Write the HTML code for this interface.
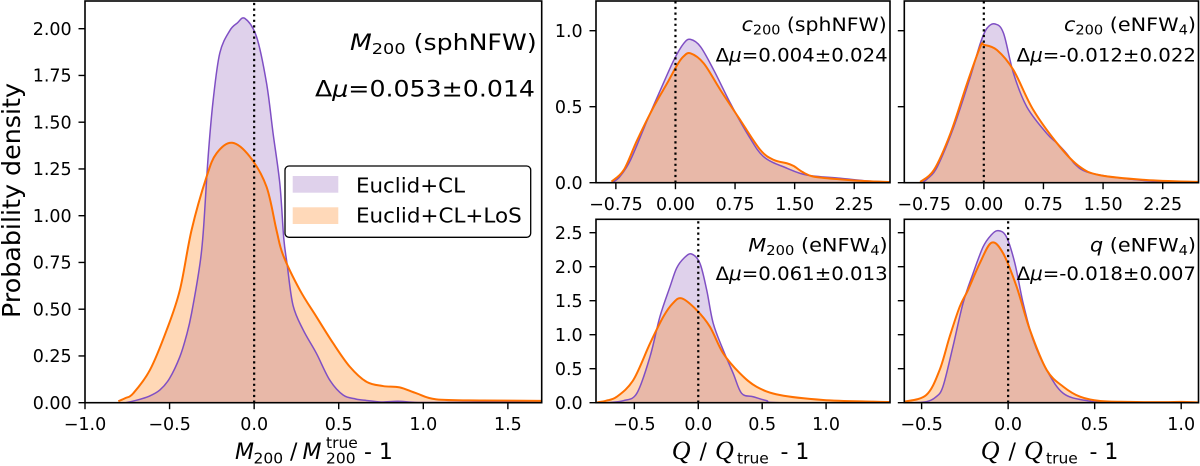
<!DOCTYPE html>
<html><head><meta charset="utf-8">
<style>
html,body{margin:0;padding:0;background:#fff;}
svg{display:block;font-family:"DejaVu Sans","Liberation Sans",sans-serif;}
.t{font-size:17.5px;fill:#000;}
.e{text-anchor:end;}
.m{text-anchor:middle;}
</style></head>
<body>
<svg id="s" width="1200" height="466" viewBox="0 0 1200 466" xmlns="http://www.w3.org/2000/svg">
<rect width="1200" height="466" fill="#fff"/>
<g id="plots"></g>

<g class="t e">
<text x="71.7" y="408.9">0.00</text>
<text x="71.7" y="362.15">0.25</text>
<text x="71.7" y="315.4">0.50</text>
<text x="71.7" y="268.65">0.75</text>
<text x="71.7" y="221.9">1.00</text>
<text x="71.7" y="175.15">1.25</text>
<text x="71.7" y="128.4">1.50</text>
<text x="71.7" y="81.65">1.75</text>
<text x="71.7" y="34.9">2.00</text>
</g>
<g class="t m">
<text x="85" y="430">−1.0</text>
<text x="169.6" y="430">−0.5</text>
<text x="254.2" y="430">0.0</text>
<text x="338.7" y="430">0.5</text>
<text x="423.3" y="430">1.0</text>
<text x="507.9" y="430">1.5</text>
</g>
<g class="t e">
<text x="582.7" y="36.9">1.0</text>
<text x="582.7" y="112.9">0.5</text>
<text x="582.7" y="188.9">0.0</text>
</g>
<g class="t m">
<text x="615.9" y="210">−0.75</text>
<text x="675.5" y="210">0.00</text>
<text x="735.1" y="210">0.75</text>
<text x="794.7" y="210">1.50</text>
<text x="854.2" y="210">2.25</text>
<text x="924.2" y="210">−0.75</text>
<text x="983.8" y="210">0.00</text>
<text x="1043.4" y="210">0.75</text>
<text x="1103.1" y="210">1.50</text>
<text x="1162.7" y="210">2.25</text>
</g>
<g class="t e">
<text x="582.7" y="408.9">0.0</text>
<text x="582.7" y="374.9">0.5</text>
<text x="582.7" y="340.9">1.0</text>
<text x="582.7" y="306.9">1.5</text>
<text x="582.7" y="272.9">2.0</text>
<text x="582.7" y="238.9">2.5</text>
</g>
<g class="t m">
<text x="634.4" y="430">−0.5</text>
<text x="698.3" y="430">0.0</text>
<text x="762.2" y="430">0.5</text>
<text x="826.1" y="430">1.0</text>
<text x="921.6" y="430">−0.5</text>
<text x="1008.1" y="430">0.0</text>
<text x="1094.7" y="430">0.5</text>
<text x="1181.2" y="430">1.0</text>
</g>

<text transform="translate(20,200.5) rotate(-90)" text-anchor="middle" font-size="25" textLength="235" lengthAdjust="spacingAndGlyphs">Probability density</text>

<g font-size="22">
<text x="235" y="459" font-style="italic">M</text>
<text x="253.5" y="463.5" font-size="15.5">200</text>
<text x="290" y="459">/</text>
<text x="302.5" y="459" font-style="italic">M</text>
<text x="326" y="448" font-size="15.5">true</text>
<text x="326" y="463.5" font-size="15.5">200</text>
<text x="364" y="459">- 1</text>
</g>
<g font-size="22">
<text x="671.7" y="459" font-size="26" font-style="italic" font-family="Liberation Serif, serif">Q</text>
<text x="699.5" y="459">/</text>
<text x="715" y="459" font-size="26" font-style="italic" font-family="Liberation Serif, serif">Q</text>
<text x="737" y="463.5" font-size="15.5">true</text>
<text x="780.5" y="459">- 1</text>
</g>
<g font-size="22">
<text x="980.7" y="459" font-size="26" font-style="italic" font-family="Liberation Serif, serif">Q</text>
<text x="1008.5" y="459">/</text>
<text x="1024" y="459" font-size="26" font-style="italic" font-family="Liberation Serif, serif">Q</text>
<text x="1046" y="463.5" font-size="15.5">true</text>
<text x="1089.5" y="459">- 1</text>
</g>

<text x="350" y="50" font-size="22" textLength="186.7" lengthAdjust="spacingAndGlyphs"><tspan font-style="italic">M</tspan><tspan font-size="15.5" dy="4">200</tspan><tspan dy="-4"> (sphNFW)</tspan></text>
<text x="315" y="96.7" font-size="22" textLength="220" lengthAdjust="spacingAndGlyphs">Δ<tspan font-style="italic">μ</tspan>=0.053±0.014</text>

<text x="741.7" y="31" font-size="18.5" textLength="145" lengthAdjust="spacingAndGlyphs"><tspan font-style="italic">c</tspan><tspan font-size="13" dy="3.5">200</tspan><tspan dy="-3.5"> (sphNFW)</tspan></text>
<text x="715.7" y="61.7" font-size="18.5" textLength="172" lengthAdjust="spacingAndGlyphs">Δ<tspan font-style="italic">μ</tspan>=0.004±0.024</text>

<text x="1064" y="31" font-size="18.5" textLength="132" lengthAdjust="spacingAndGlyphs"><tspan font-style="italic">c</tspan><tspan font-size="13" dy="3.5">200</tspan><tspan dy="-3.5"> (eNFW</tspan><tspan font-size="13" dy="3.5">4</tspan><tspan dy="-3.5">)</tspan></text>
<text x="1016.7" y="61.7" font-size="18.5" textLength="179.3" lengthAdjust="spacingAndGlyphs">Δ<tspan font-style="italic">μ</tspan>=-0.012±0.022</text>

<text x="748.3" y="251.7" font-size="18.5" textLength="139.4" lengthAdjust="spacingAndGlyphs"><tspan font-style="italic">M</tspan><tspan font-size="13" dy="3.5">200</tspan><tspan dy="-3.5"> (eNFW</tspan><tspan font-size="13" dy="3.5">4</tspan><tspan dy="-3.5">)</tspan></text>
<text x="715.7" y="280" font-size="18.5" textLength="172" lengthAdjust="spacingAndGlyphs">Δ<tspan font-style="italic">μ</tspan>=0.061±0.013</text>

<text x="1090" y="251.7" font-size="18.5" textLength="106" lengthAdjust="spacingAndGlyphs"><tspan font-style="italic">q</tspan> (eNFW<tspan font-size="13" dy="3.5">4</tspan><tspan dy="-3.5">)</tspan></text>
<text x="1016.7" y="280" font-size="18.5" textLength="179.3" lengthAdjust="spacingAndGlyphs">Δ<tspan font-style="italic">μ</tspan>=-0.018±0.007</text>

<rect x="285" y="166" width="245.7" height="71.3" rx="4" ry="4" fill="#fff" stroke="#000" stroke-width="1.3"/>
<rect x="292.7" y="176" width="45.6" height="16.7" fill="#dfd1eb"/>
<rect x="292.7" y="207.3" width="45.6" height="16.7" fill="#ffd9b9"/>
<text x="356" y="192.3" font-size="20.5" textLength="109" lengthAdjust="spacingAndGlyphs">Euclid+CL</text>
<text x="356" y="222.7" font-size="20.5" textLength="165.7" lengthAdjust="spacingAndGlyphs">Euclid+CL+LoS</text>
</svg>
<script>
const NS="http://www.w3.org/2000/svg";
const root=document.getElementById('plots');
function el(tag,attrs,parent){const e=document.createElementNS(NS,tag);for(const k in attrs)e.setAttribute(k,attrs[k]);(parent||root).appendChild(e);return e;}
function pathFrom(pts){
  let d="M"+pts[0][0].toFixed(2)+","+pts[0][1].toFixed(2);
  for(let i=0;i<pts.length-1;i++){
    const p0=pts[Math.max(i-1,0)],p1=pts[i],p2=pts[i+1],p3=pts[Math.min(i+2,pts.length-1)];
    const c1=[p1[0]+(p2[0]-p0[0])/6,p1[1]+(p2[1]-p0[1])/6];
    const c2=[p2[0]-(p3[0]-p1[0])/6,p2[1]-(p3[1]-p1[1])/6];
    d+=" C"+c1[0].toFixed(2)+","+c1[1].toFixed(2)+" "+c2[0].toFixed(2)+","+c2[1].toFixed(2)+" "+p2[0].toFixed(2)+","+p2[1].toFixed(2);
  }
  return d;
}
let cid=0;
function panel(ax,P,O,xt,yt){
  const sx=(ax.x1-ax.x0)/(ax.xmax-ax.xmin);
  const X=x=>ax.x0+(x-ax.xmin)*sx, Y=y=>ax.yb-y*ax.ys;
  const id='clp'+(cid++);
  const cp=el('clipPath',{id:id});
  el('rect',{x:ax.x0,y:ax.yt,width:ax.x1-ax.x0,height:ax.yb-ax.yt},cp);
  const g=el('g',{'clip-path':'url(#'+id+')'});
  const pp=P.map(p=>[X(p[0]),Y(p[1])]), op=O.map(p=>[X(p[0]),Y(p[1])]);
  const fillD=pts=>pathFrom(pts)+" L"+pts[pts.length-1][0].toFixed(2)+","+ax.yb+" L"+pts[0][0].toFixed(2)+","+ax.yb+" Z";
  el('path',{d:fillD(pp),fill:'#9467bd','fill-opacity':0.3},g);
  el('path',{d:fillD(op),fill:'#ff7f0e','fill-opacity':0.3},g);
  el('path',{d:pathFrom(pp),fill:'none',stroke:'#7f4fc4','stroke-width':1.5,'stroke-linejoin':'round'},g);
  el('path',{d:pathFrom(op),fill:'none',stroke:'#ff7000','stroke-width':2,'stroke-linejoin':'round'},g);
  el('line',{x1:X(0),x2:X(0),y1:ax.yb,y2:ax.yt,stroke:'#000','stroke-width':2.2,'stroke-dasharray':'2.2 3.4'},g);
  el('rect',{x:ax.x0,y:ax.yt,width:ax.x1-ax.x0,height:ax.yb-ax.yt,fill:'none',stroke:'#000','stroke-width':1.6});
  xt.forEach(v=>el('line',{x1:X(v),x2:X(v),y1:ax.yb,y2:ax.yb+6.5,stroke:'#000','stroke-width':1.4}));
  yt.forEach(v=>el('line',{x1:ax.x0,x2:ax.x0-6.5,y1:Y(v),y2:Y(v),stroke:'#000','stroke-width':1.4}));
}

panel({x0:85,x1:541.7,xmin:-1,xmax:1.7,yb:402.7,ys:187,yt:1},
[[-0.76,0],[-0.70,0.012],[-0.62,0.035],[-0.557,0.068],[-0.50,0.13],[-0.439,0.246],[-0.40,0.36],[-0.37,0.478],[-0.32,0.745],[-0.30,0.923],[-0.272,1.315],[-0.242,1.62],[-0.203,1.87],[-0.144,1.99],[-0.10,2.03],[-0.055,2.055],[0.014,1.957],[0.073,1.71],[0.112,1.44],[0.152,1.17],[0.175,0.88],[0.195,0.74],[0.23,0.52],[0.29,0.389],[0.368,0.264],[0.447,0.121],[0.526,0.041],[0.60,0.02],[0.664,0.012],[0.75,0.004],[0.85,0.008],[0.95,0.002],[1.1,0.001],[1.5,0.003],[1.7,0.001]],
[[-0.803,0.008],[-0.76,0.025],[-0.715,0.05],[-0.616,0.175],[-0.517,0.389],[-0.439,0.603],[-0.37,0.923],[-0.281,1.209],[-0.222,1.334],[-0.13,1.39],[-0.025,1.315],[0.073,1.155],[0.132,0.923],[0.171,0.79],[0.27,0.603],[0.368,0.46],[0.467,0.318],[0.565,0.193],[0.664,0.112],[0.762,0.089],[0.86,0.082],[0.96,0.05],[1.077,0.018],[1.35,0.012],[1.7,0.01]],
[-1,-0.5,0,0.5,1,1.5],[0,0.25,0.5,0.75,1,1.25,1.5,1.75,2]);

panel({x0:596,x1:890,xmin:-1,xmax:2.7,yb:182.7,ys:152,yt:1},
[[-0.796,0],[-0.70,0.04],[-0.566,0.149],[-0.356,0.41],[-0.189,0.61],[-0.02,0.807],[0.105,0.917],[0.189,0.943],[0.315,0.895],[0.482,0.741],[0.692,0.522],[0.902,0.325],[1.11,0.171],[1.405,0.095],[1.656,0.05],[2.075,0.029],[2.4,0.012],[2.7,0.004]],
[[-0.805,0.007],[-0.65,0.084],[-0.482,0.28],[-0.273,0.5],[-0.105,0.654],[0.021,0.774],[0.10,0.83],[0.189,0.851],[0.356,0.785],[0.566,0.61],[0.818,0.41],[1.069,0.215],[1.237,0.15],[1.40,0.128],[1.488,0.11],[1.60,0.07],[1.74,0.04],[2.075,0.022],[2.4,0.01],[2.7,0.005]],
[-0.75,0,0.75,1.5,2.25],[0,0.5,1]);

panel({x0:904.3,x1:1198.5,xmin:-1,xmax:2.7,yb:182.7,ys:152,yt:1},
[[-0.773,0],[-0.70,0.03],[-0.585,0.105],[-0.377,0.368],[-0.169,0.697],[-0.044,0.917],[0.04,1.016],[0.144,1.044],[0.248,0.983],[0.373,0.72],[0.54,0.5],[0.79,0.325],[0.92,0.26],[1.04,0.193],[1.15,0.12],[1.29,0.072],[1.58,0.04],[2.2,0.007],[2.7,0.003]],
[[-0.8,0.005],[-0.627,0.084],[-0.419,0.325],[-0.21,0.654],[-0.044,0.895],[0.006,0.906],[0.165,0.873],[0.373,0.741],[0.623,0.478],[0.956,0.237],[1.206,0.105],[1.456,0.05],[2.04,0.018],[2.7,0.005]],
[-0.75,0,0.75,1.5,2.25],[0,0.5,1]);

panel({x0:596,x1:890,xmin:-0.8,xmax:1.5,yb:402.7,ys:68,yt:219.3},
[[-0.72,0],[-0.586,0.03],[-0.48,0.14],[-0.377,0.68],[-0.3,1.265],[-0.221,1.706],[-0.169,1.98],[-0.11,2.13],[-0.052,2.187],[0.013,2.05],[0.066,1.657],[0.117,1.167],[0.195,0.775],[0.273,0.432],[0.339,0.138],[0.43,0.088],[0.534,0.03],[0.64,0.0],[1.5,0]],
[[-0.79,0.005],[-0.72,0.03],[-0.637,0.088],[-0.508,0.334],[-0.377,0.873],[-0.273,1.265],[-0.20,1.46],[-0.13,1.535],[-0.013,1.363],[0.091,1.118],[0.195,0.726],[0.326,0.432],[0.456,0.235],[0.638,0.113],[0.977,0.04],[1.367,0.015],[1.5,0.01]],
[-0.5,0,0.5,1],[0,0.5,1,1.5,2,2.5]);

panel({x0:904.3,x1:1198.5,xmin:-0.6,xmax:1.1,yb:402.7,ys:68,yt:219.3},
[[-0.55,0],[-0.473,0.015],[-0.42,0.08],[-0.377,0.235],[-0.319,0.824],[-0.261,1.46],[-0.203,1.9],[-0.145,2.29],[-0.10,2.46],[-0.058,2.53],[-0.01,2.44],[0.039,2.05],[0.087,1.46],[0.145,0.92],[0.223,0.48],[0.319,0.137],[0.455,0.03],[0.61,0.0],[1.1,0]],
[[-0.6,0.015],[-0.473,0.113],[-0.396,0.48],[-0.338,0.97],[-0.28,1.41],[-0.232,1.657],[-0.164,2.05],[-0.096,2.353],[-0.029,2.197],[0.049,1.706],[0.126,1.069],[0.223,0.48],[0.319,0.235],[0.416,0.088],[0.532,0.025],[0.7,0.012],[0.9,0.008],[1.0,0.012],[1.1,0.005]],
[-0.5,0,0.5,1],[0,0.5,1,1.5,2,2.5]);
</script>
</body></html>
